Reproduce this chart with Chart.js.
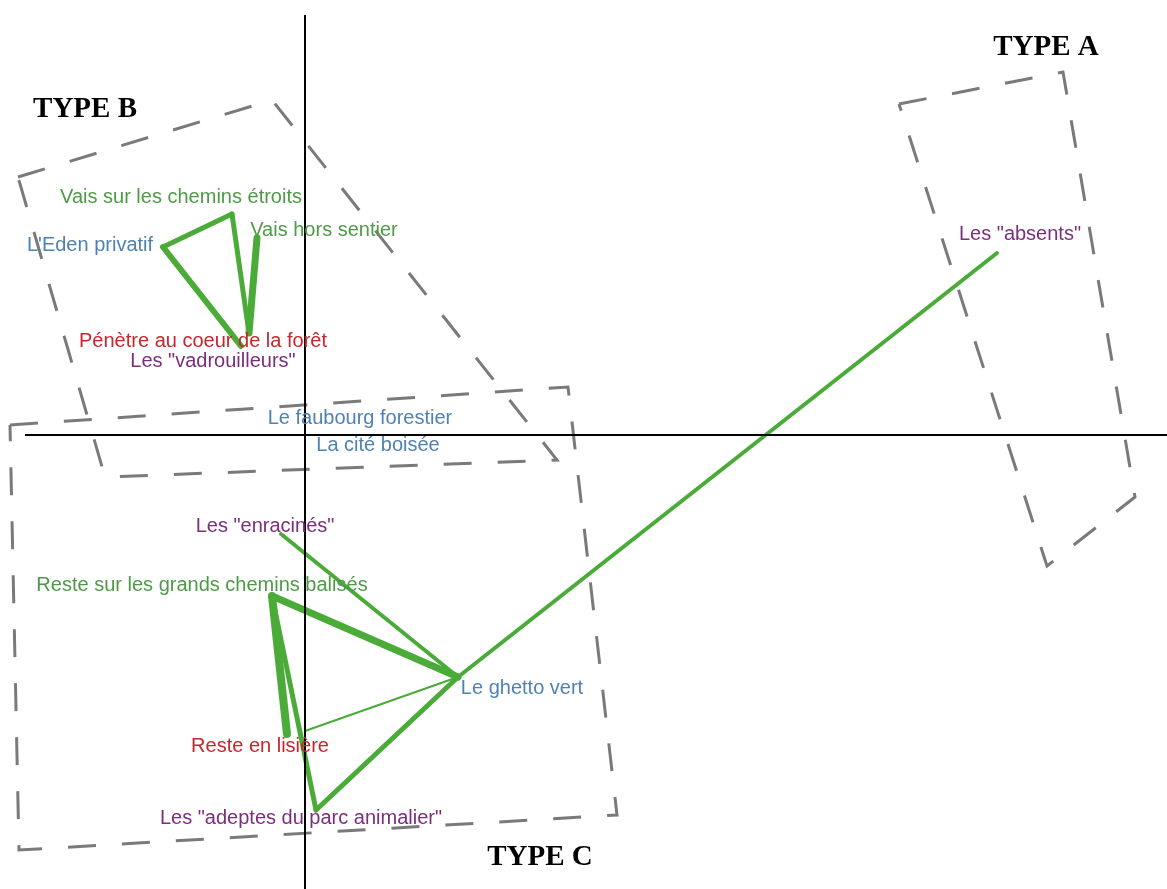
<!DOCTYPE html>
<html>
<head>
<meta charset="utf-8">
<script src="https://cdn.jsdelivr.net/npm/chart.js@4.4.1/dist/chart.umd.min.js"></script>
<style>
  html, body { margin: 0; padding: 0; background: #ffffff; }
  #wrap { width: 1167px; height: 889px; position: relative; }
</style>
</head>
<body>
<div id="wrap"><canvas id="c" width="1167" height="889"></canvas></div>
<script>
// ---- Data (factor map coordinates: dimension 1 / dimension 2) ----
const nodeNames = ['Eden', 'Etroits', 'HorsSentier', 'Penetre', 'Vadrouilleurs',
                   'Enracines', 'GrandsChemins', 'Ghetto', 'Lisiere', 'LisiereB', 'Adeptes', 'Absents'];
const nodeDim1 = [-1.42, -0.73, -0.48, -0.56, -0.64, -0.24, -0.33, 1.53, -0.18, 0.00, 0.11, 6.92];
const nodeDim2 = [ 1.88,  2.21,  1.97,  1.02,  0.89, -0.99, -1.61, -2.42, -2.99, -2.96, -3.75, 1.82];

const linkFrom   = [0, 1, 2, 0, 5, 6, 6, 6, 9, 10, 7];
const linkTo     = [1, 3, 3, 4, 7, 7, 8, 10, 7, 7, 11];
const linkWeight = [5, 5, 7, 6, 4, 7, 8, 5, 2, 5, 4];

const labelTexts = ["Vais sur les chemins étroits", "Vais hors sentier", "L'Eden privatif",
  "Pénètre au coeur de la forêt", 'Les "vadrouilleurs"', "Le faubourg forestier", "La cité boisée",
  'Les "absents"', 'Les "enracinés"', "Reste sur les grands chemins balisés", "Le ghetto vert",
  "Reste en lisière", 'Les "adeptes du parc animalier"'];
const labelDim1 = [-1.24, 0.19, -2.15, -1.02, -0.92, 0.55, 0.73, 7.15, -0.40, -1.03, 2.17, -0.45, -0.04];
const labelDim2 = [ 2.38, 2.05,  1.90,  0.94,  0.74, 0.17, -0.10, 2.01, -0.91, -1.50, -2.53, -3.11, -3.83];
const labelKind = ['pratique', 'pratique', 'espace', 'rapport', 'profil', 'espace', 'espace',
  'profil', 'profil', 'pratique', 'espace', 'rapport', 'profil'];

const typeNames = ['TYPE A', 'TYPE B', 'TYPE C'];
const typeDim1 = [7.41, -2.20, 2.35];
const typeDim2 = [3.87,  3.25, -4.23];

const boxA_dim1 = [5.94, 7.58, 8.30, 7.42, 5.94];
const boxA_dim2 = [3.31, 3.63, -0.62, -1.31, 3.31];
const boxB_dim1 = [-2.87, -0.33, 2.52, -2.00, -2.87];
const boxB_dim2 = [2.58, 3.35, -0.25, -0.42, 2.58];
const boxC_dim1 = [-2.95, 2.63, 3.12, -2.86, -2.95];
const boxC_dim2 = [0.10, 0.48, -3.80, -4.15, 0.10];

const axisH_dim1 = [-2.80, 8.62];
const axisH_dim2 = [0, 0];
const axisV_dim1 = [0, 0];
const axisV_dim2 = [4.20, -4.54];

// ---- Styles ----
const kindColor = { pratique: '#4e9a47', espace: '#4f82b3', rapport: '#c8262c', profil: '#7a2e7c' };
const green = '#4aab38';
const boxGray = '#7a7a7a';

const toPts = (xs, ys) => xs.map((x, i) => ({ x: x, y: ys[i] }));

const datasets = [];
[[boxA_dim1, boxA_dim2], [boxB_dim1, boxB_dim2], [boxC_dim1, boxC_dim2]].forEach(b => {
  datasets.push({
    data: toPts(b[0], b[1]), showLine: true, borderColor: boxGray, borderWidth: 3,
    borderDash: [28, 26], pointRadius: 0, order: 3, tension: 0
  });
});
linkFrom.forEach((f, i) => {
  const t = linkTo[i];
  datasets.push({
    data: [{ x: nodeDim1[f], y: nodeDim2[f] }, { x: nodeDim1[t], y: nodeDim2[t] }],
    showLine: true, borderColor: green, borderWidth: linkWeight[i], pointRadius: 0,
    order: 2, borderCapStyle: 'round'
  });
});
datasets.push({ data: toPts(axisH_dim1, axisH_dim2), showLine: true, borderColor: '#000',
  borderWidth: 2, pointRadius: 0, order: 1 });
datasets.push({ data: toPts(axisV_dim1, axisV_dim2), showLine: true, borderColor: '#000',
  borderWidth: 2, pointRadius: 0, order: 1 });

const textPlugin = {
  id: 'texts',
  afterDatasetsDraw(chart) {
    const ctx = chart.ctx, xs = chart.scales.x, ys = chart.scales.y;
    ctx.save();
    ctx.textAlign = 'center';
    ctx.textBaseline = 'middle';
    ctx.font = '20px "Liberation Sans", Arial, sans-serif';
    labelTexts.forEach((t, i) => {
      ctx.fillStyle = kindColor[labelKind[i]];
      ctx.fillText(t, xs.getPixelForValue(labelDim1[i]), ys.getPixelForValue(labelDim2[i]));
    });
    ctx.font = 'bold 29px "Liberation Serif", "Times New Roman", serif';
    ctx.fillStyle = '#000';
    typeNames.forEach((t, i) => {
      ctx.fillText(t, xs.getPixelForValue(typeDim1[i]), ys.getPixelForValue(typeDim2[i]));
    });
    ctx.restore();
  }
};

new Chart(document.getElementById('c'), {
  type: 'scatter',
  data: { datasets: datasets },
  options: {
    responsive: false,
    animation: false,
    layout: { padding: 0 },
    plugins: { legend: { display: false }, tooltip: { enabled: false } },
    scales: {
      x: { type: 'linear', min: -3.05, max: 8.62, display: false },
      y: { type: 'linear', min: -4.54, max: 4.35, display: false }
    }
  },
  plugins: [textPlugin]
});
</script>
</body>
</html>
